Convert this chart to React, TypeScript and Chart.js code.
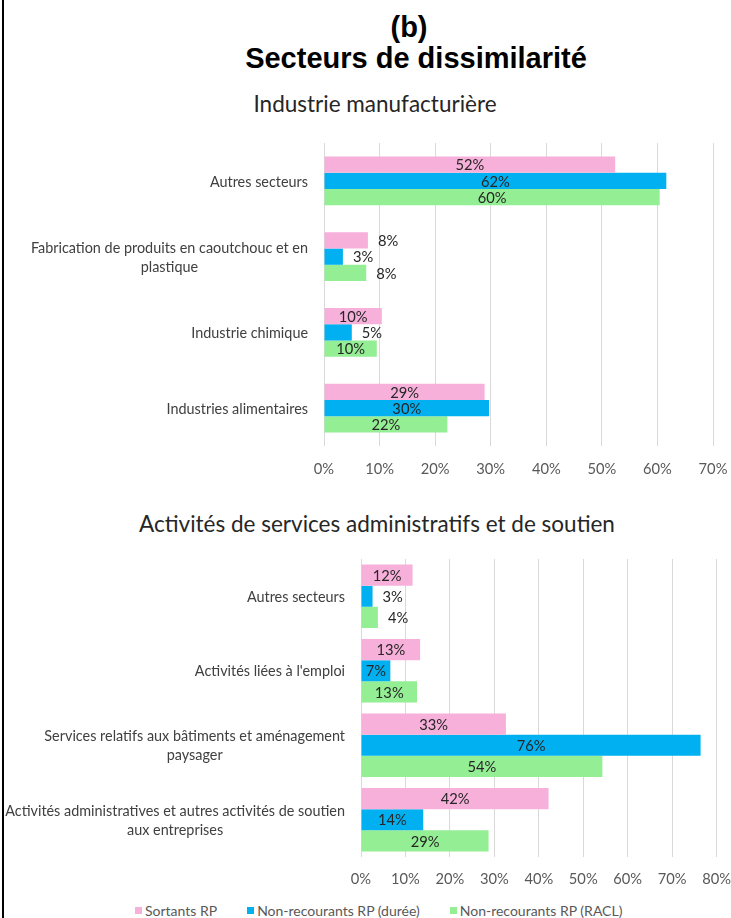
import React, { useEffect, useRef } from 'react';
import { Chart, registerables } from 'chart.js';

Chart.register(...registerables);

const FONT = 'Lato, "Open Sans", sans-serif';
const TITLE_FONT = '"Liberation Sans", Arial, sans-serif';

const seriesNames = ['Sortants RP', 'Non-recourants RP (durée)', 'Non-recourants RP (RACL)'];
const seriesColors = ['#F7B0DA', '#00B0F0', '#94EE94'];

const industryCategories = [
  ['Autres secteurs'],
  ['Fabrication de produits en caoutchouc et en', 'plastique'],
  ['Industrie chimique'],
  ['Industries alimentaires'],
];
const industrySortants = [52.4, 7.9, 10.4, 28.9];
const industryDuree = [61.6, 3.4, 5.0, 29.7];
const industryRacl = [60.4, 7.6, 9.5, 22.2];
const industryAxisMax = 70;

const servicesCategories = [
  ['Autres secteurs'],
  ["Activités liées à l'emploi"],
  ['Services relatifs aux bâtiments et aménagement', 'paysager'],
  ['Activités administratives et autres activités de soutien', 'aux entreprises'],
];
const servicesSortants = [11.6, 13.3, 32.6, 42.2];
const servicesDuree = [2.6, 6.6, 76.4, 14.0];
const servicesRacl = [3.8, 12.6, 54.3, 28.7];
const servicesAxisMax = 80;

const tickStep = 10;
const LABEL_SIZE = 14.7;
const CATEGORY_SIZE = 14.4;

const valueLabelPlugin = {
  id: 'valueLabels',
  afterDatasetsDraw(chart: any, _args: any, opts: any) {
    const ctx = chart.ctx;
    ctx.save();
    ctx.font = `${LABEL_SIZE}px ${FONT}`;
    ctx.fillStyle = '#262626';
    ctx.textBaseline = 'middle';
    chart.data.datasets.forEach((ds: any, di: number) => {
      const meta = chart.getDatasetMeta(di);
      meta.data.forEach((bar: any, i: number) => {
        const v = ds.data[i] as number;
        const text = Math.round(v) + '%';
        const p = bar.getProps(['x', 'y', 'base'], true);
        if (v >= opts.insideMin) {
          ctx.textAlign = 'center';
          ctx.fillText(text, (p.x + p.base) / 2, p.y + 1);
        } else {
          ctx.textAlign = 'left';
          ctx.fillText(text, p.x + 10, p.y + 1);
        }
      });
    });
    ctx.restore();
  },
};

const categoryLabelPlugin = {
  id: 'categoryLabels',
  afterDraw(chart: any) {
    const ctx = chart.ctx;
    const yScale = chart.scales.y;
    const left = chart.chartArea.left;
    ctx.save();
    ctx.font = `${CATEGORY_SIZE}px ${FONT}`;
    ctx.fillStyle = '#404040';
    ctx.textBaseline = 'middle';
    ctx.textAlign = 'center';
    const lineH = 19;
    (chart.data.labels as string[][]).forEach((lbl, i) => {
      const lines = Array.isArray(lbl) ? lbl : [lbl];
      const yc = yScale.getPixelForValue(i);
      const w = Math.max(...lines.map((l) => ctx.measureText(l).width));
      const cx = left - 16 - w / 2;
      lines.forEach((l, j) => {
        ctx.fillText(l, cx, yc + (j - (lines.length - 1) / 2) * lineH + 1);
      });
    });
    ctx.restore();
  },
};

type PanelProps = {
  labels: string[][];
  values: number[][];
  max: number;
  top: number;
  height: number;
  padLeft: number;
  padTop: number;
  padRight: number;
  axisHeight: number;
  yAxisWidth: number;
  catPct: number;
  insideMin: number;
  tickGap: number;
};

function BarPanel(props: PanelProps) {
  const ref = useRef<HTMLCanvasElement>(null);
  useEffect(() => {
    const p = props;
    const chart = new Chart(ref.current as HTMLCanvasElement, {
      type: 'bar',
      data: {
        labels: p.labels as any,
        datasets: p.values.map((d, i) => ({
          label: seriesNames[i],
          data: d,
          backgroundColor: seriesColors[i],
          borderWidth: 0,
          categoryPercentage: p.catPct,
          barPercentage: 1,
        })),
      },
      options: {
        indexAxis: 'y',
        animation: false,
        responsive: false,
        maintainAspectRatio: false,
        layout: { padding: { left: p.padLeft, top: p.padTop, right: p.padRight, bottom: 0 } },
        plugins: {
          legend: { display: false },
          tooltip: { enabled: false },
          valueLabels: { insideMin: p.insideMin },
        } as any,
        scales: {
          x: {
            min: 0,
            max: p.max,
            ticks: {
              stepSize: tickStep,
              callback: (v: any) => v + '%',
              color: '#595959',
              font: { family: FONT, size: LABEL_SIZE },
              padding: 0,
              maxRotation: 0,
            },
            grid: {
              color: '#d9d9d9',
              drawTicks: true,
              tickLength: p.tickGap,
              tickColor: 'rgba(0,0,0,0)',
              lineWidth: 1,
            },
            border: { display: false },
            afterFit: (s: any) => {
              s.height = p.axisHeight;
            },
          },
          y: {
            ticks: { display: false },
            grid: { display: false },
            border: { display: false },
            afterFit: (s: any) => {
              s.width = p.yAxisWidth;
            },
          },
        },
      } as any,
      plugins: [valueLabelPlugin, categoryLabelPlugin],
    });
    return () => chart.destroy();
  }, []);
  return (
    <canvas
      ref={ref}
      width={731}
      height={props.height}
      style={{ position: 'absolute', left: 0, top: props.top, width: 731, height: props.height }}
    />
  );
}

const subtitleStyle = (top: number, width: number): React.CSSProperties => ({
  position: 'absolute',
  left: 0,
  width,
  top,
  textAlign: 'center',
  font: `22.5px ${FONT}`,
  lineHeight: '27px',
  color: '#262626',
  whiteSpace: 'nowrap',
});

export default function App() {
  return (
    <div
      style={{
        position: 'absolute',
        left: 0,
        top: 0,
        width: 731,
        height: 918,
        background: '#ffffff',
        overflow: 'hidden',
      }}
    >
      <div style={{ position: 'absolute', left: 2, top: 0, width: 2, height: 918, background: '#000' }} />
      <div
        style={{
          position: 'absolute',
          left: 0,
          width: 818,
          top: 13,
          textAlign: 'center',
          font: `bold 29px ${TITLE_FONT}`,
          lineHeight: '29px',
          color: '#000',
        }}
      >
        (b)
      </div>
      <div
        style={{
          position: 'absolute',
          left: 0,
          width: 832,
          top: 44,
          textAlign: 'center',
          font: `bold 29px ${TITLE_FONT}`,
          lineHeight: '29px',
          color: '#000',
        }}
      >
        Secteurs de dissimilarité
      </div>
      <div style={subtitleStyle(90, 750)}>Industrie manufacturière</div>
      <BarPanel
        labels={industryCategories}
        values={[industrySortants, industryDuree, industryRacl]}
        max={industryAxisMax}
        top={130}
        height={350}
        padLeft={0}
        padTop={13}
        padRight={18}
        axisHeight={34}
        yAxisWidth={324}
        catPct={0.645}
        insideMin={9}
        tickGap={14}
      />
      <div style={subtitleStyle(510, 754)}>Activités de services administratifs et de soutien</div>
      <BarPanel
        labels={servicesCategories}
        values={[servicesSortants, servicesDuree, servicesRacl]}
        max={servicesAxisMax}
        top={545}
        height={345}
        padLeft={0}
        padTop={14}
        padRight={14}
        axisHeight={33}
        yAxisWidth={361}
        catPct={0.855}
        insideMin={5}
        tickGap={13}
      />
      <div
        style={{
          position: 'absolute',
          left: 135,
          top: 901,
          display: 'flex',
          gap: 30,
          font: `14px ${FONT}`,
          lineHeight: '19px',
          color: '#595959',
          whiteSpace: 'nowrap',
        }}
      >
        {seriesNames.map((n, i) => (
          <div key={n} style={{ display: 'flex', alignItems: 'center' }}>
            <span
              style={{ display: 'inline-block', width: 7, height: 7, background: seriesColors[i], marginRight: 3 }}
            />
            {n}
          </div>
        ))}
      </div>
    </div>
  );
}
